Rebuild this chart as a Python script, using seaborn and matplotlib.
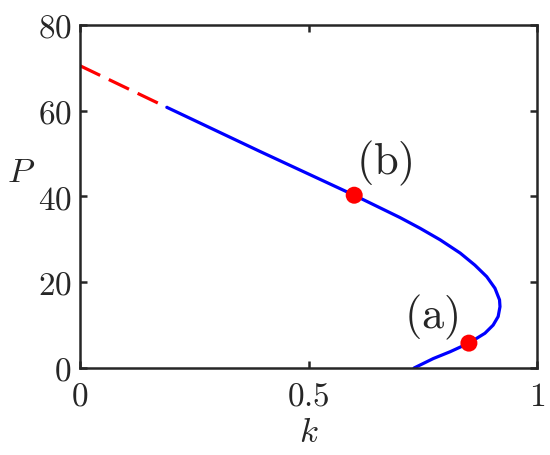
import matplotlib
matplotlib.use("Agg")
import matplotlib.pyplot as plt
import seaborn as sns
import pandas as pd

# branch values
unstable_k = [0.0, 0.19]
unstable_P = [70.5, 60.8]

stable_k = [0.19, 0.394, 0.600, 0.700, 0.744, 0.788, 0.832, 0.864, 0.890, 0.908,
            0.918, 0.919, 0.915, 0.904, 0.886, 0.851, 0.810, 0.773, 0.731]
stable_P = [60.8, 50.5, 40.3, 35.1, 32.6, 29.9, 26.8, 24.0, 21.3, 18.6,
            15.9, 14.3, 12.0, 10.0, 8.1, 5.8, 3.8, 2.2, 0.0]

point_k = [0.851, 0.600]
point_P = [5.8, 40.3]
point_labels = [r"$\mathrm{(a)}$", r"$\mathrm{(b)}$"]
label_k = [0.769, 0.666]
label_P = [11.7, 47.8]

x_ticks = [0, 0.5, 1]
x_ticklabels = ["$0$", "$0.5$", "$1$"]
y_ticks = [0, 20, 40, 60, 80]
y_ticklabels = ["$0$", "$20$", "$40$", "$60$", "$80$"]

sns.set_style("ticks")
plt.rcParams["mathtext.fontset"] = "cm"
plt.rcParams["font.family"] = ["DejaVu Serif"]

fig = plt.figure(figsize=(5.5, 4.55), dpi=100)
ax = fig.add_axes([80 / 550, 1 - 368 / 455, 457 / 550, 343 / 455])

unstable = pd.DataFrame({"k": unstable_k, "P": unstable_P})
stable = pd.DataFrame({"k": stable_k, "P": stable_P})
points = pd.DataFrame({"k": point_k, "P": point_P})

sns.lineplot(data=unstable, x="k", y="P", sort=False, color="#ff0000",
             linewidth=2.3, ax=ax)
ax.lines[-1].set_dashes((7.0, 3.0))
sns.lineplot(data=stable, x="k", y="P", sort=False, color="#0000ff",
             linewidth=2.3, ax=ax, solid_joinstyle="round")
sns.scatterplot(data=points, x="k", y="P", color="#ff0000", s=150,
                edgecolor="none", ax=ax, zorder=5)

for lab, kx, py in zip(point_labels, label_k, label_P):
    ax.text(kx, py, lab, fontsize=32, ha="center", va="center")

ax.set_xlim(0, 1)
ax.set_ylim(0, 80)
ax.set_xticks(x_ticks)
ax.set_xticklabels(x_ticklabels, fontsize=24)
ax.set_yticks(y_ticks)
ax.set_yticklabels(y_ticklabels, fontsize=24)
ax.tick_params(direction="in", length=5, width=1.8, color="#262626",
               top=True, right=True)
ax.tick_params(axis="x", pad=9)
ax.tick_params(axis="y", pad=6)

for sp in ax.spines.values():
    sp.set_visible(True)
    sp.set_linewidth(1.8)
    sp.set_color("#262626")

ax.set_xlabel("$k$", fontsize=25)
ax.set_ylabel("$P$", fontsize=25, rotation=0)
ax.xaxis.set_label_coords(0.5, -0.187)
ax.xaxis.label.set_va("center")
ax.yaxis.set_label_coords(-0.129, 0.571)
ax.yaxis.label.set_va("center")
ax.yaxis.label.set_ha("center")

fig.savefig("out.png", dpi=100)
